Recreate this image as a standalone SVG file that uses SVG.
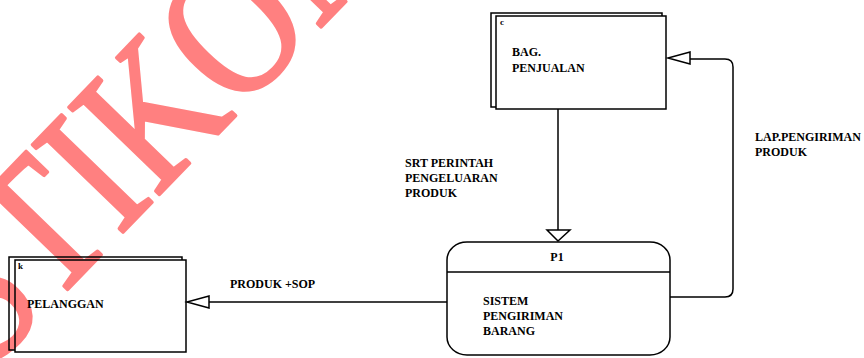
<svg xmlns="http://www.w3.org/2000/svg" width="864" height="358" viewBox="0 0 864 358">
<defs>
<style>
.ln{fill:none;stroke:#000;stroke-width:1.5}
.ah{fill:#fff;stroke:#000;stroke-width:1.5}
.tx{font-family:"Liberation Serif","Times New Roman",serif;font-weight:bold;font-size:12px;fill:#000}
.sm{font-family:"Liberation Serif","Times New Roman",serif;font-weight:bold;font-size:9px;fill:#000}
.wm{font-family:"Liberation Serif","Times New Roman",serif;font-size:192px;fill:#ff8080;stroke:#ff8080;stroke-width:3.5;stroke-linejoin:round}
</style>
</defs>
<rect width="864" height="358" fill="#fff"/>
<g id="watermark">
<text class="wm" transform="translate(-12,372) rotate(-46) scale(0.84,1)">STIKOM</text>
</g>
<g id="connectors">
<path class="ln" d="M558,109 V230"/>
<path class="ah" d="M547,230 L570,230 L558,241 Z"/>
<path class="ln" d="M670,297 H725 Q733,297 733,289 V67 Q733,59 725,59 H690"/>
<path class="ah" d="M690,52 L690,64 L668,58 Z"/>
<path class="ln" d="M447,302 H209"/>
<path class="ah" d="M209,296 L209,308 L187,302 Z"/>
<text class="tx" x="405" y="167">SRT PERINTAH</text>
<text class="tx" x="405" y="182">PENGELUARAN</text>
<text class="tx" x="405" y="197">PRODUK</text>
<text class="tx" x="755" y="141">LAP.PENGIRIMAN</text>
<text class="tx" x="755" y="156">PRODUK</text>
<text class="tx" x="230" y="288">PRODUK +SOP</text>
</g>
<g id="bag-penjualan">
<path class="ln" d="M496,107 H491 V13 H662 V16"/>
<rect class="ln" x="496" y="16" width="170" height="93"/>
<text class="sm" x="500" y="25">c</text>
<text class="tx" x="512" y="56">BAG.</text>
<text class="tx" x="512" y="72">PENJUALAN</text>
</g>
<g id="pelanggan">
<path class="ln" d="M15,350 H9 V257 H182 V260"/>
<rect class="ln" x="15" y="260" width="171" height="92"/>
<text class="sm" x="18" y="269">k</text>
<text class="tx" x="27" y="308">PELANGGAN</text>
</g>
<g id="p1">
<rect class="ln" x="447" y="242" width="223" height="113" rx="20" ry="18"/>
<path class="ln" d="M447,272 H670"/>
<text class="tx" x="557" y="261" text-anchor="middle">P1</text>
<text class="tx" x="483" y="305">SISTEM</text>
<text class="tx" x="483" y="320">PENGIRIMAN</text>
<text class="tx" x="483" y="335">BARANG</text>
</g>
</svg>
